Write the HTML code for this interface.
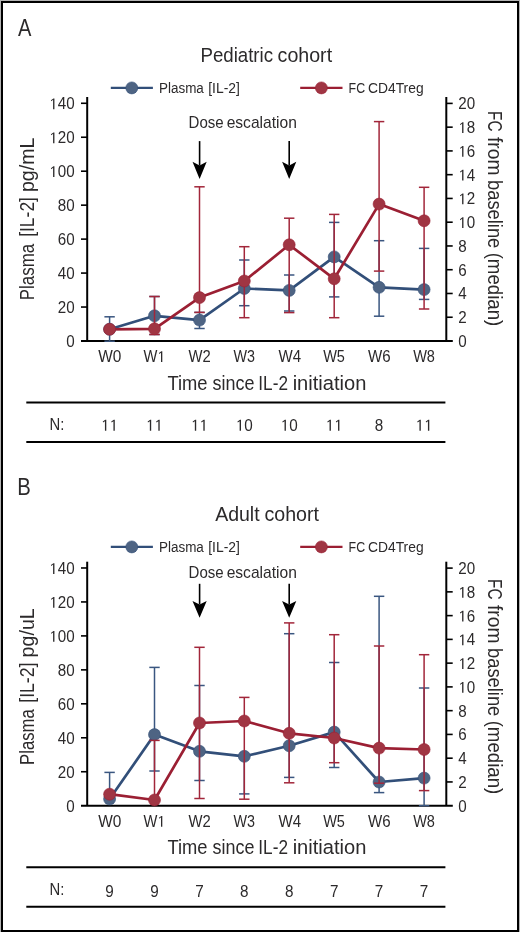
<!DOCTYPE html>
<html><head><meta charset="utf-8"><style>
html,body{margin:0;padding:0;background:#fff;}
svg{display:block;will-change:transform;}
text{font-family:"Liberation Sans",sans-serif;}
</style></head><body>
<svg width="520" height="932" viewBox="0 0 520 932">
<rect x="0" y="0" width="520" height="932" fill="#fff"/>
<g transform="translate(18.05,35.80) scale(0.8471,1)"><text font-size="23.70" fill="#2c2a2b">A</text></g>
<g transform="translate(200.46,61.60) scale(0.9386,1)"><text font-size="19.90" fill="#2c2a2b">Pediatric</text></g>
<g transform="translate(277.57,61.60) scale(0.9866,1)"><text font-size="19.90" fill="#2c2a2b">cohort</text></g>
<line x1="110.8" y1="87.9" x2="152.9" y2="87.9" stroke="#324f79" stroke-width="2.2"/>
<circle cx="131.8" cy="87.9" r="6.0" fill="#4e6483" stroke="#324f79" stroke-width="0.6"/>
<g transform="translate(158.99,92.60) scale(0.8745,1)"><text font-size="15.40" fill="#2c2a2b">Plasma</text></g>
<g transform="translate(208.23,92.60) scale(0.9023,1)"><text font-size="15.40" fill="#2c2a2b">[IL-2]</text></g>
<line x1="300.2" y1="87.9" x2="342.5" y2="87.9" stroke="#9b1f33" stroke-width="2.2"/>
<circle cx="321.4" cy="87.9" r="6.0" fill="#a03543" stroke="#9b1f33" stroke-width="0.6"/>
<g transform="translate(348.58,92.60) scale(0.8033,1)"><text font-size="15.40" fill="#2c2a2b">FC</text></g>
<g transform="translate(368.01,92.60) scale(0.8996,1)"><text font-size="15.40" fill="#2c2a2b">CD4Treg</text></g>
<g transform="translate(188.56,128.40) scale(0.9171,1)"><text font-size="16.40" fill="#2c2a2b">Dose</text></g>
<g transform="translate(226.64,128.40) scale(0.9512,1)"><text font-size="16.40" fill="#2c2a2b">escalation</text></g>
<line x1="199.6" y1="141.1" x2="199.6" y2="165.6" stroke="#000" stroke-width="1.6"/>
<path d="M192.5,161.8 L199.6,165.6 L206.7,161.8 L199.6,178.9 Z" fill="#000"/>
<line x1="289.2" y1="141.1" x2="289.2" y2="165.6" stroke="#000" stroke-width="1.6"/>
<path d="M282.09999999999997,161.8 L289.2,165.6 L296.3,161.8 L289.2,178.9 Z" fill="#000"/>
<line x1="87.2" y1="97" x2="87.2" y2="341" stroke="#000" stroke-width="2"/>
<line x1="446.3" y1="97" x2="446.3" y2="341" stroke="#000" stroke-width="2"/>
<line x1="81" y1="341" x2="452.8" y2="341" stroke="#000" stroke-width="2"/>
<line x1="81" y1="307.04" x2="87.2" y2="307.04" stroke="#000" stroke-width="1.6"/>
<line x1="81" y1="273.08" x2="87.2" y2="273.08" stroke="#000" stroke-width="1.6"/>
<line x1="81" y1="239.12" x2="87.2" y2="239.12" stroke="#000" stroke-width="1.6"/>
<line x1="81" y1="205.16" x2="87.2" y2="205.16" stroke="#000" stroke-width="1.6"/>
<line x1="81" y1="171.20" x2="87.2" y2="171.20" stroke="#000" stroke-width="1.6"/>
<line x1="81" y1="137.24" x2="87.2" y2="137.24" stroke="#000" stroke-width="1.6"/>
<line x1="81" y1="103.28" x2="87.2" y2="103.28" stroke="#000" stroke-width="1.6"/>
<g transform="translate(66.16,346.90) scale(0.9730,1)"><text font-size="15.60" fill="#2c2a2b">0</text></g>
<g transform="translate(57.72,312.94) scale(0.9730,1)"><text font-size="15.60" fill="#2c2a2b">20</text></g>
<g transform="translate(57.72,278.98) scale(0.9730,1)"><text font-size="15.60" fill="#2c2a2b">40</text></g>
<g transform="translate(57.72,245.02) scale(0.9730,1)"><text font-size="15.60" fill="#2c2a2b">60</text></g>
<g transform="translate(57.72,211.06) scale(0.9730,1)"><text font-size="15.60" fill="#2c2a2b">80</text></g>
<g transform="translate(49.27,177.10) scale(0.9730,1)"><text font-size="15.60" fill="#2c2a2b"> 00</text><path d="M515,0 L696,0 L696,1409 L566,1409 L222,1170 L268,1046 L515,1222 Z" transform="translate(0.000,0) scale(0.007617,-0.007617)" fill="#2c2a2b"/></g>
<g transform="translate(49.27,143.14) scale(0.9730,1)"><text font-size="15.60" fill="#2c2a2b"> 20</text><path d="M515,0 L696,0 L696,1409 L566,1409 L222,1170 L268,1046 L515,1222 Z" transform="translate(0.000,0) scale(0.007617,-0.007617)" fill="#2c2a2b"/></g>
<g transform="translate(49.27,109.18) scale(0.9730,1)"><text font-size="15.60" fill="#2c2a2b"> 40</text><path d="M515,0 L696,0 L696,1409 L566,1409 L222,1170 L268,1046 L515,1222 Z" transform="translate(0.000,0) scale(0.007617,-0.007617)" fill="#2c2a2b"/></g>
<line x1="446.3" y1="317.24" x2="452.7" y2="317.24" stroke="#000" stroke-width="1.6"/>
<line x1="446.3" y1="293.48" x2="452.7" y2="293.48" stroke="#000" stroke-width="1.6"/>
<line x1="446.3" y1="269.72" x2="452.7" y2="269.72" stroke="#000" stroke-width="1.6"/>
<line x1="446.3" y1="245.96" x2="452.7" y2="245.96" stroke="#000" stroke-width="1.6"/>
<line x1="446.3" y1="222.20" x2="452.7" y2="222.20" stroke="#000" stroke-width="1.6"/>
<line x1="446.3" y1="198.44" x2="452.7" y2="198.44" stroke="#000" stroke-width="1.6"/>
<line x1="446.3" y1="174.68" x2="452.7" y2="174.68" stroke="#000" stroke-width="1.6"/>
<line x1="446.3" y1="150.92" x2="452.7" y2="150.92" stroke="#000" stroke-width="1.6"/>
<line x1="446.3" y1="127.16" x2="452.7" y2="127.16" stroke="#000" stroke-width="1.6"/>
<line x1="446.3" y1="103.40" x2="452.7" y2="103.40" stroke="#000" stroke-width="1.6"/>
<g transform="translate(458.30,346.90) scale(0.9730,1)"><text font-size="15.60" fill="#2c2a2b">0</text></g>
<g transform="translate(458.30,323.14) scale(0.9730,1)"><text font-size="15.60" fill="#2c2a2b">2</text></g>
<g transform="translate(458.30,299.38) scale(0.9730,1)"><text font-size="15.60" fill="#2c2a2b">4</text></g>
<g transform="translate(458.30,275.62) scale(0.9730,1)"><text font-size="15.60" fill="#2c2a2b">6</text></g>
<g transform="translate(458.30,251.86) scale(0.9730,1)"><text font-size="15.60" fill="#2c2a2b">8</text></g>
<g transform="translate(458.30,228.10) scale(0.9730,1)"><text font-size="15.60" fill="#2c2a2b"> 0</text><path d="M515,0 L696,0 L696,1409 L566,1409 L222,1170 L268,1046 L515,1222 Z" transform="translate(0.000,0) scale(0.007617,-0.007617)" fill="#2c2a2b"/></g>
<g transform="translate(458.30,204.34) scale(0.9730,1)"><text font-size="15.60" fill="#2c2a2b"> 2</text><path d="M515,0 L696,0 L696,1409 L566,1409 L222,1170 L268,1046 L515,1222 Z" transform="translate(0.000,0) scale(0.007617,-0.007617)" fill="#2c2a2b"/></g>
<g transform="translate(458.30,180.58) scale(0.9730,1)"><text font-size="15.60" fill="#2c2a2b"> 4</text><path d="M515,0 L696,0 L696,1409 L566,1409 L222,1170 L268,1046 L515,1222 Z" transform="translate(0.000,0) scale(0.007617,-0.007617)" fill="#2c2a2b"/></g>
<g transform="translate(458.30,156.82) scale(0.9730,1)"><text font-size="15.60" fill="#2c2a2b"> 6</text><path d="M515,0 L696,0 L696,1409 L566,1409 L222,1170 L268,1046 L515,1222 Z" transform="translate(0.000,0) scale(0.007617,-0.007617)" fill="#2c2a2b"/></g>
<g transform="translate(458.30,133.06) scale(0.9730,1)"><text font-size="15.60" fill="#2c2a2b"> 8</text><path d="M515,0 L696,0 L696,1409 L566,1409 L222,1170 L268,1046 L515,1222 Z" transform="translate(0.000,0) scale(0.007617,-0.007617)" fill="#2c2a2b"/></g>
<g transform="translate(458.30,109.30) scale(0.9730,1)"><text font-size="15.60" fill="#2c2a2b">20</text></g>
<g transform="translate(98.32,362.00) scale(0.9833,1)"><text font-size="15.70" fill="#2c2a2b">W0</text></g>
<g transform="translate(143.43,362.00) scale(0.9365,1)"><text font-size="15.70" fill="#2c2a2b">W </text><path d="M515,0 L696,0 L696,1409 L566,1409 L222,1170 L268,1046 L515,1222 Z" transform="translate(14.819,0) scale(0.007666,-0.007666)" fill="#2c2a2b"/></g>
<g transform="translate(188.43,362.00) scale(0.9433,1)"><text font-size="15.70" fill="#2c2a2b">W2</text></g>
<g transform="translate(233.43,362.00) scale(0.9121,1)"><text font-size="15.70" fill="#2c2a2b">W3</text></g>
<g transform="translate(278.42,362.00) scale(0.9592,1)"><text font-size="15.70" fill="#2c2a2b">W4</text></g>
<g transform="translate(323.13,362.00) scale(0.9237,1)"><text font-size="15.70" fill="#2c2a2b">W5</text></g>
<g transform="translate(367.92,362.00) scale(0.9603,1)"><text font-size="15.70" fill="#2c2a2b">W6</text></g>
<g transform="translate(413.13,362.00) scale(0.9253,1)"><text font-size="15.70" fill="#2c2a2b">W8</text></g>
<g transform="translate(167.39,389.50) scale(0.9314,1)"><text font-size="19.70" fill="#2c2a2b">Time</text></g>
<g transform="translate(212.51,389.50) scale(0.9109,1)"><text font-size="19.70" fill="#2c2a2b">since</text></g>
<g transform="translate(258.31,389.50) scale(0.8739,1)"><text font-size="19.70" fill="#2c2a2b">IL-2</text></g>
<g transform="translate(292.64,389.50) scale(1.0217,1)"><text font-size="19.70" fill="#2c2a2b">initiation</text></g>
<g transform="translate(34.00,300.19) rotate(-90) scale(0.8612,1)"><text font-size="19.60" fill="#2c2a2b">Plasma</text></g>
<g transform="translate(34.00,236.82) rotate(-90) scale(0.8903,1)"><text font-size="19.60" fill="#2c2a2b">[IL-2]</text></g>
<g transform="translate(34.00,192.08) rotate(-90) scale(1.0033,1)"><text font-size="19.60" fill="#2c2a2b">pg/mL</text></g>
<g transform="translate(488.30,111.03) rotate(90) scale(0.7869,1)"><text font-size="19.60" fill="#2c2a2b">FC</text></g>
<g transform="translate(488.30,136.91) rotate(90) scale(0.9832,1)"><text font-size="19.60" fill="#2c2a2b">from</text></g>
<g transform="translate(488.30,180.01) rotate(90) scale(0.9365,1)"><text font-size="19.60" fill="#2c2a2b">baseline</text></g>
<g transform="translate(488.30,252.63) rotate(90) scale(0.9530,1)"><text font-size="19.60" fill="#2c2a2b">(median)</text></g>
<line x1="26.3" y1="402.5" x2="445.4" y2="402.5" stroke="#000" stroke-width="2"/>
<line x1="26.3" y1="442.1" x2="445.4" y2="442.1" stroke="#000" stroke-width="2"/>
<g transform="translate(49.57,430.00) scale(0.9232,1)"><text font-size="16.10" fill="#2c2a2b">N:</text></g>
<g transform="translate(101.10,430.70) scale(0.9550,1)"><text font-size="16.00" fill="#2c2a2b">  </text><path d="M515,0 L696,0 L696,1409 L566,1409 L222,1170 L268,1046 L515,1222 Z" transform="translate(0.000,0) scale(0.007812,-0.007812)" fill="#2c2a2b"/><path d="M515,0 L696,0 L696,1409 L566,1409 L222,1170 L268,1046 L515,1222 Z" transform="translate(8.899,0) scale(0.007812,-0.007812)" fill="#2c2a2b"/></g>
<g transform="translate(146.00,430.70) scale(0.9550,1)"><text font-size="16.00" fill="#2c2a2b">  </text><path d="M515,0 L696,0 L696,1409 L566,1409 L222,1170 L268,1046 L515,1222 Z" transform="translate(0.000,0) scale(0.007812,-0.007812)" fill="#2c2a2b"/><path d="M515,0 L696,0 L696,1409 L566,1409 L222,1170 L268,1046 L515,1222 Z" transform="translate(8.899,0) scale(0.007812,-0.007812)" fill="#2c2a2b"/></g>
<g transform="translate(191.00,430.70) scale(0.9550,1)"><text font-size="16.00" fill="#2c2a2b">  </text><path d="M515,0 L696,0 L696,1409 L566,1409 L222,1170 L268,1046 L515,1222 Z" transform="translate(0.000,0) scale(0.007812,-0.007812)" fill="#2c2a2b"/><path d="M515,0 L696,0 L696,1409 L566,1409 L222,1170 L268,1046 L515,1222 Z" transform="translate(8.899,0) scale(0.007812,-0.007812)" fill="#2c2a2b"/></g>
<g transform="translate(235.80,430.70) scale(0.9550,1)"><text font-size="16.00" fill="#2c2a2b"> 0</text><path d="M515,0 L696,0 L696,1409 L566,1409 L222,1170 L268,1046 L515,1222 Z" transform="translate(0.000,0) scale(0.007812,-0.007812)" fill="#2c2a2b"/></g>
<g transform="translate(280.70,430.70) scale(0.9550,1)"><text font-size="16.00" fill="#2c2a2b"> 0</text><path d="M515,0 L696,0 L696,1409 L566,1409 L222,1170 L268,1046 L515,1222 Z" transform="translate(0.000,0) scale(0.007812,-0.007812)" fill="#2c2a2b"/></g>
<g transform="translate(325.70,430.70) scale(0.9550,1)"><text font-size="16.00" fill="#2c2a2b">  </text><path d="M515,0 L696,0 L696,1409 L566,1409 L222,1170 L268,1046 L515,1222 Z" transform="translate(0.000,0) scale(0.007812,-0.007812)" fill="#2c2a2b"/><path d="M515,0 L696,0 L696,1409 L566,1409 L222,1170 L268,1046 L515,1222 Z" transform="translate(8.899,0) scale(0.007812,-0.007812)" fill="#2c2a2b"/></g>
<g transform="translate(374.85,430.70) scale(0.9550,1)"><text font-size="16.00" fill="#2c2a2b">8</text></g>
<g transform="translate(415.60,430.70) scale(0.9550,1)"><text font-size="16.00" fill="#2c2a2b">  </text><path d="M515,0 L696,0 L696,1409 L566,1409 L222,1170 L268,1046 L515,1222 Z" transform="translate(0.000,0) scale(0.007812,-0.007812)" fill="#2c2a2b"/><path d="M515,0 L696,0 L696,1409 L566,1409 L222,1170 L268,1046 L515,1222 Z" transform="translate(8.899,0) scale(0.007812,-0.007812)" fill="#2c2a2b"/></g>
<line x1="109.6" y1="316.8" x2="109.6" y2="341.2" stroke="#3a5680" stroke-width="1.5"/>
<line x1="104.39999999999999" y1="316.8" x2="114.8" y2="316.8" stroke="#3a5680" stroke-width="1.5"/>
<line x1="104.39999999999999" y1="341.2" x2="114.8" y2="341.2" stroke="#3a5680" stroke-width="1.5"/>
<line x1="154.5" y1="296.5" x2="154.5" y2="334.5" stroke="#3a5680" stroke-width="1.5"/>
<line x1="149.3" y1="296.5" x2="159.7" y2="296.5" stroke="#3a5680" stroke-width="1.5"/>
<line x1="149.3" y1="334.5" x2="159.7" y2="334.5" stroke="#3a5680" stroke-width="1.5"/>
<line x1="199.5" y1="312.4" x2="199.5" y2="328.5" stroke="#3a5680" stroke-width="1.5"/>
<line x1="194.3" y1="312.4" x2="204.7" y2="312.4" stroke="#3a5680" stroke-width="1.5"/>
<line x1="194.3" y1="328.5" x2="204.7" y2="328.5" stroke="#3a5680" stroke-width="1.5"/>
<line x1="244.3" y1="260" x2="244.3" y2="305.7" stroke="#3a5680" stroke-width="1.5"/>
<line x1="239.10000000000002" y1="260" x2="249.5" y2="260" stroke="#3a5680" stroke-width="1.5"/>
<line x1="239.10000000000002" y1="305.7" x2="249.5" y2="305.7" stroke="#3a5680" stroke-width="1.5"/>
<line x1="289.2" y1="275" x2="289.2" y2="311" stroke="#3a5680" stroke-width="1.5"/>
<line x1="284.0" y1="275" x2="294.4" y2="275" stroke="#3a5680" stroke-width="1.5"/>
<line x1="284.0" y1="311" x2="294.4" y2="311" stroke="#3a5680" stroke-width="1.5"/>
<line x1="334.2" y1="222.4" x2="334.2" y2="296.9" stroke="#3a5680" stroke-width="1.5"/>
<line x1="329.0" y1="222.4" x2="339.4" y2="222.4" stroke="#3a5680" stroke-width="1.5"/>
<line x1="329.0" y1="296.9" x2="339.4" y2="296.9" stroke="#3a5680" stroke-width="1.5"/>
<line x1="379.1" y1="240.7" x2="379.1" y2="316.2" stroke="#3a5680" stroke-width="1.5"/>
<line x1="373.90000000000003" y1="240.7" x2="384.3" y2="240.7" stroke="#3a5680" stroke-width="1.5"/>
<line x1="373.90000000000003" y1="316.2" x2="384.3" y2="316.2" stroke="#3a5680" stroke-width="1.5"/>
<line x1="424.1" y1="248.4" x2="424.1" y2="299.4" stroke="#3a5680" stroke-width="1.5"/>
<line x1="418.90000000000003" y1="248.4" x2="429.3" y2="248.4" stroke="#3a5680" stroke-width="1.5"/>
<line x1="418.90000000000003" y1="299.4" x2="429.3" y2="299.4" stroke="#3a5680" stroke-width="1.5"/>
<path d="M109.6,329.2 L154.5,315.8 L199.5,320.1 L244.3,288.5 L289.2,290.4 L334.2,256.9 L379.1,287.3 L424.1,289.6" fill="none" stroke="#324f79" stroke-width="2.7" stroke-linejoin="round"/>
<circle cx="109.6" cy="329.2" r="6.0" fill="#4e6483" stroke="#324f79" stroke-width="0.6"/>
<circle cx="154.5" cy="315.8" r="6.0" fill="#4e6483" stroke="#324f79" stroke-width="0.6"/>
<circle cx="199.5" cy="320.1" r="6.0" fill="#4e6483" stroke="#324f79" stroke-width="0.6"/>
<circle cx="244.3" cy="288.5" r="6.0" fill="#4e6483" stroke="#324f79" stroke-width="0.6"/>
<circle cx="289.2" cy="290.4" r="6.0" fill="#4e6483" stroke="#324f79" stroke-width="0.6"/>
<circle cx="334.2" cy="256.9" r="6.0" fill="#4e6483" stroke="#324f79" stroke-width="0.6"/>
<circle cx="379.1" cy="287.3" r="6.0" fill="#4e6483" stroke="#324f79" stroke-width="0.6"/>
<circle cx="424.1" cy="289.6" r="6.0" fill="#4e6483" stroke="#324f79" stroke-width="0.6"/>
<line x1="154.5" y1="296.5" x2="154.5" y2="334.5" stroke="#a2263a" stroke-width="1.5"/>
<line x1="149.3" y1="296.5" x2="159.7" y2="296.5" stroke="#a2263a" stroke-width="1.5"/>
<line x1="149.3" y1="334.5" x2="159.7" y2="334.5" stroke="#a2263a" stroke-width="1.5"/>
<line x1="199.5" y1="186.8" x2="199.5" y2="312.4" stroke="#a2263a" stroke-width="1.5"/>
<line x1="194.3" y1="186.8" x2="204.7" y2="186.8" stroke="#a2263a" stroke-width="1.5"/>
<line x1="194.3" y1="312.4" x2="204.7" y2="312.4" stroke="#a2263a" stroke-width="1.5"/>
<line x1="244.3" y1="246.7" x2="244.3" y2="317.7" stroke="#a2263a" stroke-width="1.5"/>
<line x1="239.10000000000002" y1="246.7" x2="249.5" y2="246.7" stroke="#a2263a" stroke-width="1.5"/>
<line x1="239.10000000000002" y1="317.7" x2="249.5" y2="317.7" stroke="#a2263a" stroke-width="1.5"/>
<line x1="289.2" y1="218.2" x2="289.2" y2="312.6" stroke="#a2263a" stroke-width="1.5"/>
<line x1="284.0" y1="218.2" x2="294.4" y2="218.2" stroke="#a2263a" stroke-width="1.5"/>
<line x1="284.0" y1="312.6" x2="294.4" y2="312.6" stroke="#a2263a" stroke-width="1.5"/>
<line x1="334.2" y1="214.4" x2="334.2" y2="317.7" stroke="#a2263a" stroke-width="1.5"/>
<line x1="329.0" y1="214.4" x2="339.4" y2="214.4" stroke="#a2263a" stroke-width="1.5"/>
<line x1="329.0" y1="317.7" x2="339.4" y2="317.7" stroke="#a2263a" stroke-width="1.5"/>
<line x1="379.1" y1="121.6" x2="379.1" y2="271.1" stroke="#a2263a" stroke-width="1.5"/>
<line x1="373.90000000000003" y1="121.6" x2="384.3" y2="121.6" stroke="#a2263a" stroke-width="1.5"/>
<line x1="373.90000000000003" y1="271.1" x2="384.3" y2="271.1" stroke="#a2263a" stroke-width="1.5"/>
<line x1="424.1" y1="187.3" x2="424.1" y2="309" stroke="#a2263a" stroke-width="1.5"/>
<line x1="418.90000000000003" y1="187.3" x2="429.3" y2="187.3" stroke="#a2263a" stroke-width="1.5"/>
<line x1="418.90000000000003" y1="309" x2="429.3" y2="309" stroke="#a2263a" stroke-width="1.5"/>
<path d="M109.6,329.3 L154.5,328.8 L199.5,297.6 L244.3,281.0 L289.2,244.8 L334.2,278.8 L379.1,204.1 L424.1,220.8" fill="none" stroke="#9b1f33" stroke-width="2.7" stroke-linejoin="round"/>
<circle cx="109.6" cy="329.3" r="6.0" fill="#a03543" stroke="#9b1f33" stroke-width="0.6"/>
<circle cx="154.5" cy="328.8" r="6.0" fill="#a03543" stroke="#9b1f33" stroke-width="0.6"/>
<circle cx="199.5" cy="297.6" r="6.0" fill="#a03543" stroke="#9b1f33" stroke-width="0.6"/>
<circle cx="244.3" cy="281.0" r="6.0" fill="#a03543" stroke="#9b1f33" stroke-width="0.6"/>
<circle cx="289.2" cy="244.8" r="6.0" fill="#a03543" stroke="#9b1f33" stroke-width="0.6"/>
<circle cx="334.2" cy="278.8" r="6.0" fill="#a03543" stroke="#9b1f33" stroke-width="0.6"/>
<circle cx="379.1" cy="204.1" r="6.0" fill="#a03543" stroke="#9b1f33" stroke-width="0.6"/>
<circle cx="424.1" cy="220.8" r="6.0" fill="#a03543" stroke="#9b1f33" stroke-width="0.6"/>
<g transform="translate(17.13,494.60) scale(0.8346,1)"><text font-size="24.30" fill="#2c2a2b">B</text></g>
<g transform="translate(215.15,520.60) scale(0.9807,1)"><text font-size="19.90" fill="#2c2a2b">Adult</text></g>
<g transform="translate(264.47,520.60) scale(0.9866,1)"><text font-size="19.90" fill="#2c2a2b">cohort</text></g>
<line x1="110.8" y1="546.9" x2="152.9" y2="546.9" stroke="#324f79" stroke-width="2.2"/>
<circle cx="131.8" cy="546.9" r="6.0" fill="#4e6483" stroke="#324f79" stroke-width="0.6"/>
<g transform="translate(158.99,551.60) scale(0.8745,1)"><text font-size="15.40" fill="#2c2a2b">Plasma</text></g>
<g transform="translate(208.23,551.60) scale(0.9023,1)"><text font-size="15.40" fill="#2c2a2b">[IL-2]</text></g>
<line x1="300.2" y1="546.9" x2="342.5" y2="546.9" stroke="#9b1f33" stroke-width="2.2"/>
<circle cx="321.4" cy="546.9" r="6.0" fill="#a03543" stroke="#9b1f33" stroke-width="0.6"/>
<g transform="translate(348.58,551.60) scale(0.8033,1)"><text font-size="15.40" fill="#2c2a2b">FC</text></g>
<g transform="translate(368.01,551.60) scale(0.8996,1)"><text font-size="15.40" fill="#2c2a2b">CD4Treg</text></g>
<g transform="translate(188.56,578.00) scale(0.9171,1)"><text font-size="16.40" fill="#2c2a2b">Dose</text></g>
<g transform="translate(226.64,578.00) scale(0.9512,1)"><text font-size="16.40" fill="#2c2a2b">escalation</text></g>
<line x1="199.6" y1="583.8" x2="199.6" y2="604.5" stroke="#000" stroke-width="1.6"/>
<path d="M192.5,601.1 L199.6,604.5 L206.7,601.1 L199.6,617.8 Z" fill="#000"/>
<line x1="289.2" y1="583.8" x2="289.2" y2="604.5" stroke="#000" stroke-width="1.6"/>
<path d="M282.09999999999997,601.1 L289.2,604.5 L296.3,601.1 L289.2,617.8 Z" fill="#000"/>
<line x1="87.2" y1="561.7" x2="87.2" y2="805.7" stroke="#000" stroke-width="2"/>
<line x1="446.3" y1="561.7" x2="446.3" y2="805.7" stroke="#000" stroke-width="2"/>
<line x1="81" y1="805.7" x2="452.8" y2="805.7" stroke="#000" stroke-width="2"/>
<line x1="81" y1="771.74" x2="87.2" y2="771.74" stroke="#000" stroke-width="1.6"/>
<line x1="81" y1="737.78" x2="87.2" y2="737.78" stroke="#000" stroke-width="1.6"/>
<line x1="81" y1="703.82" x2="87.2" y2="703.82" stroke="#000" stroke-width="1.6"/>
<line x1="81" y1="669.86" x2="87.2" y2="669.86" stroke="#000" stroke-width="1.6"/>
<line x1="81" y1="635.90" x2="87.2" y2="635.90" stroke="#000" stroke-width="1.6"/>
<line x1="81" y1="601.94" x2="87.2" y2="601.94" stroke="#000" stroke-width="1.6"/>
<line x1="81" y1="567.98" x2="87.2" y2="567.98" stroke="#000" stroke-width="1.6"/>
<g transform="translate(66.16,811.60) scale(0.9730,1)"><text font-size="15.60" fill="#2c2a2b">0</text></g>
<g transform="translate(57.72,777.64) scale(0.9730,1)"><text font-size="15.60" fill="#2c2a2b">20</text></g>
<g transform="translate(57.72,743.68) scale(0.9730,1)"><text font-size="15.60" fill="#2c2a2b">40</text></g>
<g transform="translate(57.72,709.72) scale(0.9730,1)"><text font-size="15.60" fill="#2c2a2b">60</text></g>
<g transform="translate(57.72,675.76) scale(0.9730,1)"><text font-size="15.60" fill="#2c2a2b">80</text></g>
<g transform="translate(49.27,641.80) scale(0.9730,1)"><text font-size="15.60" fill="#2c2a2b"> 00</text><path d="M515,0 L696,0 L696,1409 L566,1409 L222,1170 L268,1046 L515,1222 Z" transform="translate(0.000,0) scale(0.007617,-0.007617)" fill="#2c2a2b"/></g>
<g transform="translate(49.27,607.84) scale(0.9730,1)"><text font-size="15.60" fill="#2c2a2b"> 20</text><path d="M515,0 L696,0 L696,1409 L566,1409 L222,1170 L268,1046 L515,1222 Z" transform="translate(0.000,0) scale(0.007617,-0.007617)" fill="#2c2a2b"/></g>
<g transform="translate(49.27,573.88) scale(0.9730,1)"><text font-size="15.60" fill="#2c2a2b"> 40</text><path d="M515,0 L696,0 L696,1409 L566,1409 L222,1170 L268,1046 L515,1222 Z" transform="translate(0.000,0) scale(0.007617,-0.007617)" fill="#2c2a2b"/></g>
<line x1="446.3" y1="781.94" x2="452.7" y2="781.94" stroke="#000" stroke-width="1.6"/>
<line x1="446.3" y1="758.18" x2="452.7" y2="758.18" stroke="#000" stroke-width="1.6"/>
<line x1="446.3" y1="734.42" x2="452.7" y2="734.42" stroke="#000" stroke-width="1.6"/>
<line x1="446.3" y1="710.66" x2="452.7" y2="710.66" stroke="#000" stroke-width="1.6"/>
<line x1="446.3" y1="686.90" x2="452.7" y2="686.90" stroke="#000" stroke-width="1.6"/>
<line x1="446.3" y1="663.14" x2="452.7" y2="663.14" stroke="#000" stroke-width="1.6"/>
<line x1="446.3" y1="639.38" x2="452.7" y2="639.38" stroke="#000" stroke-width="1.6"/>
<line x1="446.3" y1="615.62" x2="452.7" y2="615.62" stroke="#000" stroke-width="1.6"/>
<line x1="446.3" y1="591.86" x2="452.7" y2="591.86" stroke="#000" stroke-width="1.6"/>
<line x1="446.3" y1="568.10" x2="452.7" y2="568.10" stroke="#000" stroke-width="1.6"/>
<g transform="translate(458.30,811.60) scale(0.9730,1)"><text font-size="15.60" fill="#2c2a2b">0</text></g>
<g transform="translate(458.30,787.84) scale(0.9730,1)"><text font-size="15.60" fill="#2c2a2b">2</text></g>
<g transform="translate(458.30,764.08) scale(0.9730,1)"><text font-size="15.60" fill="#2c2a2b">4</text></g>
<g transform="translate(458.30,740.32) scale(0.9730,1)"><text font-size="15.60" fill="#2c2a2b">6</text></g>
<g transform="translate(458.30,716.56) scale(0.9730,1)"><text font-size="15.60" fill="#2c2a2b">8</text></g>
<g transform="translate(458.30,692.80) scale(0.9730,1)"><text font-size="15.60" fill="#2c2a2b"> 0</text><path d="M515,0 L696,0 L696,1409 L566,1409 L222,1170 L268,1046 L515,1222 Z" transform="translate(0.000,0) scale(0.007617,-0.007617)" fill="#2c2a2b"/></g>
<g transform="translate(458.30,669.04) scale(0.9730,1)"><text font-size="15.60" fill="#2c2a2b"> 2</text><path d="M515,0 L696,0 L696,1409 L566,1409 L222,1170 L268,1046 L515,1222 Z" transform="translate(0.000,0) scale(0.007617,-0.007617)" fill="#2c2a2b"/></g>
<g transform="translate(458.30,645.28) scale(0.9730,1)"><text font-size="15.60" fill="#2c2a2b"> 4</text><path d="M515,0 L696,0 L696,1409 L566,1409 L222,1170 L268,1046 L515,1222 Z" transform="translate(0.000,0) scale(0.007617,-0.007617)" fill="#2c2a2b"/></g>
<g transform="translate(458.30,621.52) scale(0.9730,1)"><text font-size="15.60" fill="#2c2a2b"> 6</text><path d="M515,0 L696,0 L696,1409 L566,1409 L222,1170 L268,1046 L515,1222 Z" transform="translate(0.000,0) scale(0.007617,-0.007617)" fill="#2c2a2b"/></g>
<g transform="translate(458.30,597.76) scale(0.9730,1)"><text font-size="15.60" fill="#2c2a2b"> 8</text><path d="M515,0 L696,0 L696,1409 L566,1409 L222,1170 L268,1046 L515,1222 Z" transform="translate(0.000,0) scale(0.007617,-0.007617)" fill="#2c2a2b"/></g>
<g transform="translate(458.30,574.00) scale(0.9730,1)"><text font-size="15.60" fill="#2c2a2b">20</text></g>
<g transform="translate(98.32,826.70) scale(0.9833,1)"><text font-size="15.70" fill="#2c2a2b">W0</text></g>
<g transform="translate(143.43,826.70) scale(0.9365,1)"><text font-size="15.70" fill="#2c2a2b">W </text><path d="M515,0 L696,0 L696,1409 L566,1409 L222,1170 L268,1046 L515,1222 Z" transform="translate(14.819,0) scale(0.007666,-0.007666)" fill="#2c2a2b"/></g>
<g transform="translate(188.43,826.70) scale(0.9433,1)"><text font-size="15.70" fill="#2c2a2b">W2</text></g>
<g transform="translate(233.43,826.70) scale(0.9121,1)"><text font-size="15.70" fill="#2c2a2b">W3</text></g>
<g transform="translate(278.42,826.70) scale(0.9592,1)"><text font-size="15.70" fill="#2c2a2b">W4</text></g>
<g transform="translate(323.13,826.70) scale(0.9237,1)"><text font-size="15.70" fill="#2c2a2b">W5</text></g>
<g transform="translate(367.92,826.70) scale(0.9603,1)"><text font-size="15.70" fill="#2c2a2b">W6</text></g>
<g transform="translate(413.13,826.70) scale(0.9253,1)"><text font-size="15.70" fill="#2c2a2b">W8</text></g>
<g transform="translate(167.39,854.20) scale(0.9314,1)"><text font-size="19.70" fill="#2c2a2b">Time</text></g>
<g transform="translate(212.51,854.20) scale(0.9109,1)"><text font-size="19.70" fill="#2c2a2b">since</text></g>
<g transform="translate(258.31,854.20) scale(0.8739,1)"><text font-size="19.70" fill="#2c2a2b">IL-2</text></g>
<g transform="translate(292.64,854.20) scale(1.0217,1)"><text font-size="19.70" fill="#2c2a2b">initiation</text></g>
<g transform="translate(34.00,764.98) rotate(-90) scale(0.8533,1)"><text font-size="19.60" fill="#2c2a2b">Plasma</text></g>
<g transform="translate(34.00,702.73) rotate(-90) scale(0.8999,1)"><text font-size="19.60" fill="#2c2a2b">[IL-2]</text></g>
<g transform="translate(34.00,657.38) rotate(-90) scale(1.0013,1)"><text font-size="19.60" fill="#2c2a2b">pg/uL</text></g>
<g transform="translate(488.30,579.03) rotate(90) scale(0.7869,1)"><text font-size="19.60" fill="#2c2a2b">FC</text></g>
<g transform="translate(488.30,604.91) rotate(90) scale(0.9832,1)"><text font-size="19.60" fill="#2c2a2b">from</text></g>
<g transform="translate(488.30,648.01) rotate(90) scale(0.9365,1)"><text font-size="19.60" fill="#2c2a2b">baseline</text></g>
<g transform="translate(488.30,720.63) rotate(90) scale(0.9530,1)"><text font-size="19.60" fill="#2c2a2b">(median)</text></g>
<line x1="26.3" y1="867.2" x2="445.4" y2="867.2" stroke="#000" stroke-width="2"/>
<line x1="26.3" y1="906.8" x2="445.4" y2="906.8" stroke="#000" stroke-width="2"/>
<g transform="translate(49.57,894.70) scale(0.9232,1)"><text font-size="16.10" fill="#2c2a2b">N:</text></g>
<g transform="translate(105.35,896.60) scale(0.9550,1)"><text font-size="16.00" fill="#2c2a2b">9</text></g>
<g transform="translate(150.25,896.60) scale(0.9550,1)"><text font-size="16.00" fill="#2c2a2b">9</text></g>
<g transform="translate(195.25,896.60) scale(0.9550,1)"><text font-size="16.00" fill="#2c2a2b">7</text></g>
<g transform="translate(240.05,896.60) scale(0.9550,1)"><text font-size="16.00" fill="#2c2a2b">8</text></g>
<g transform="translate(284.95,896.60) scale(0.9550,1)"><text font-size="16.00" fill="#2c2a2b">8</text></g>
<g transform="translate(329.95,896.60) scale(0.9550,1)"><text font-size="16.00" fill="#2c2a2b">7</text></g>
<g transform="translate(374.85,896.60) scale(0.9550,1)"><text font-size="16.00" fill="#2c2a2b">7</text></g>
<g transform="translate(419.85,896.60) scale(0.9550,1)"><text font-size="16.00" fill="#2c2a2b">7</text></g>
<line x1="109.6" y1="772.4" x2="109.6" y2="799.0" stroke="#3a5680" stroke-width="1.5"/>
<line x1="104.39999999999999" y1="772.4" x2="114.8" y2="772.4" stroke="#3a5680" stroke-width="1.5"/>
<line x1="154.5" y1="667.4" x2="154.5" y2="771" stroke="#3a5680" stroke-width="1.5"/>
<line x1="149.3" y1="667.4" x2="159.7" y2="667.4" stroke="#3a5680" stroke-width="1.5"/>
<line x1="149.3" y1="771" x2="159.7" y2="771" stroke="#3a5680" stroke-width="1.5"/>
<line x1="199.5" y1="685.5" x2="199.5" y2="780.5" stroke="#3a5680" stroke-width="1.5"/>
<line x1="194.3" y1="685.5" x2="204.7" y2="685.5" stroke="#3a5680" stroke-width="1.5"/>
<line x1="194.3" y1="780.5" x2="204.7" y2="780.5" stroke="#3a5680" stroke-width="1.5"/>
<line x1="244.3" y1="756.3" x2="244.3" y2="793.9" stroke="#3a5680" stroke-width="1.5"/>
<line x1="239.10000000000002" y1="793.9" x2="249.5" y2="793.9" stroke="#3a5680" stroke-width="1.5"/>
<line x1="289.2" y1="633.7" x2="289.2" y2="777.4" stroke="#3a5680" stroke-width="1.5"/>
<line x1="284.0" y1="633.7" x2="294.4" y2="633.7" stroke="#3a5680" stroke-width="1.5"/>
<line x1="284.0" y1="777.4" x2="294.4" y2="777.4" stroke="#3a5680" stroke-width="1.5"/>
<line x1="334.2" y1="662.5" x2="334.2" y2="767.5" stroke="#3a5680" stroke-width="1.5"/>
<line x1="329.0" y1="662.5" x2="339.4" y2="662.5" stroke="#3a5680" stroke-width="1.5"/>
<line x1="329.0" y1="767.5" x2="339.4" y2="767.5" stroke="#3a5680" stroke-width="1.5"/>
<line x1="379.1" y1="596.3" x2="379.1" y2="792.6" stroke="#3a5680" stroke-width="1.5"/>
<line x1="373.90000000000003" y1="596.3" x2="384.3" y2="596.3" stroke="#3a5680" stroke-width="1.5"/>
<line x1="373.90000000000003" y1="792.6" x2="384.3" y2="792.6" stroke="#3a5680" stroke-width="1.5"/>
<line x1="424.1" y1="688" x2="424.1" y2="805.7" stroke="#3a5680" stroke-width="1.5"/>
<line x1="418.90000000000003" y1="688" x2="429.3" y2="688" stroke="#3a5680" stroke-width="1.5"/>
<line x1="418.90000000000003" y1="805.7" x2="429.3" y2="805.7" stroke="#3a5680" stroke-width="1.5"/>
<path d="M109.6,799.0 L154.5,734.6 L199.5,751.3 L244.3,756.3 L289.2,745.8 L334.2,732.1 L379.1,782.0 L424.1,778.1" fill="none" stroke="#324f79" stroke-width="2.7" stroke-linejoin="round"/>
<circle cx="109.6" cy="799.0" r="6.0" fill="#4e6483" stroke="#324f79" stroke-width="0.6"/>
<circle cx="154.5" cy="734.6" r="6.0" fill="#4e6483" stroke="#324f79" stroke-width="0.6"/>
<circle cx="199.5" cy="751.3" r="6.0" fill="#4e6483" stroke="#324f79" stroke-width="0.6"/>
<circle cx="244.3" cy="756.3" r="6.0" fill="#4e6483" stroke="#324f79" stroke-width="0.6"/>
<circle cx="289.2" cy="745.8" r="6.0" fill="#4e6483" stroke="#324f79" stroke-width="0.6"/>
<circle cx="334.2" cy="732.1" r="6.0" fill="#4e6483" stroke="#324f79" stroke-width="0.6"/>
<circle cx="379.1" cy="782.0" r="6.0" fill="#4e6483" stroke="#324f79" stroke-width="0.6"/>
<circle cx="424.1" cy="778.1" r="6.0" fill="#4e6483" stroke="#324f79" stroke-width="0.6"/>
<line x1="154.5" y1="740.4" x2="154.5" y2="800.0" stroke="#a2263a" stroke-width="1.5"/>
<line x1="149.3" y1="740.4" x2="159.7" y2="740.4" stroke="#a2263a" stroke-width="1.5"/>
<line x1="199.5" y1="647.3" x2="199.5" y2="798.5" stroke="#a2263a" stroke-width="1.5"/>
<line x1="194.3" y1="647.3" x2="204.7" y2="647.3" stroke="#a2263a" stroke-width="1.5"/>
<line x1="194.3" y1="798.5" x2="204.7" y2="798.5" stroke="#a2263a" stroke-width="1.5"/>
<line x1="244.3" y1="697.4" x2="244.3" y2="799.2" stroke="#a2263a" stroke-width="1.5"/>
<line x1="239.10000000000002" y1="697.4" x2="249.5" y2="697.4" stroke="#a2263a" stroke-width="1.5"/>
<line x1="239.10000000000002" y1="799.2" x2="249.5" y2="799.2" stroke="#a2263a" stroke-width="1.5"/>
<line x1="289.2" y1="622.9" x2="289.2" y2="782.8" stroke="#a2263a" stroke-width="1.5"/>
<line x1="284.0" y1="622.9" x2="294.4" y2="622.9" stroke="#a2263a" stroke-width="1.5"/>
<line x1="284.0" y1="782.8" x2="294.4" y2="782.8" stroke="#a2263a" stroke-width="1.5"/>
<line x1="334.2" y1="634.7" x2="334.2" y2="762.7" stroke="#a2263a" stroke-width="1.5"/>
<line x1="329.0" y1="634.7" x2="339.4" y2="634.7" stroke="#a2263a" stroke-width="1.5"/>
<line x1="329.0" y1="762.7" x2="339.4" y2="762.7" stroke="#a2263a" stroke-width="1.5"/>
<line x1="379.1" y1="646" x2="379.1" y2="783.2" stroke="#a2263a" stroke-width="1.5"/>
<line x1="373.90000000000003" y1="646" x2="384.3" y2="646" stroke="#a2263a" stroke-width="1.5"/>
<line x1="373.90000000000003" y1="783.2" x2="384.3" y2="783.2" stroke="#a2263a" stroke-width="1.5"/>
<line x1="424.1" y1="654.7" x2="424.1" y2="790.6" stroke="#a2263a" stroke-width="1.5"/>
<line x1="418.90000000000003" y1="654.7" x2="429.3" y2="654.7" stroke="#a2263a" stroke-width="1.5"/>
<line x1="418.90000000000003" y1="790.6" x2="429.3" y2="790.6" stroke="#a2263a" stroke-width="1.5"/>
<path d="M109.6,794.2 L154.5,800.0 L199.5,723.0 L244.3,721.0 L289.2,733.3 L334.2,738.0 L379.1,748.1 L424.1,749.5" fill="none" stroke="#9b1f33" stroke-width="2.7" stroke-linejoin="round"/>
<circle cx="109.6" cy="794.2" r="6.0" fill="#a03543" stroke="#9b1f33" stroke-width="0.6"/>
<circle cx="154.5" cy="800.0" r="6.0" fill="#a03543" stroke="#9b1f33" stroke-width="0.6"/>
<circle cx="199.5" cy="723.0" r="6.0" fill="#a03543" stroke="#9b1f33" stroke-width="0.6"/>
<circle cx="244.3" cy="721.0" r="6.0" fill="#a03543" stroke="#9b1f33" stroke-width="0.6"/>
<circle cx="289.2" cy="733.3" r="6.0" fill="#a03543" stroke="#9b1f33" stroke-width="0.6"/>
<circle cx="334.2" cy="738.0" r="6.0" fill="#a03543" stroke="#9b1f33" stroke-width="0.6"/>
<circle cx="379.1" cy="748.1" r="6.0" fill="#a03543" stroke="#9b1f33" stroke-width="0.6"/>
<circle cx="424.1" cy="749.5" r="6.0" fill="#a03543" stroke="#9b1f33" stroke-width="0.6"/>
<rect x="0.5" y="0.5" width="519" height="931" fill="none" stroke="#b4b4b4" stroke-width="1"/>
<rect x="2" y="2" width="516" height="929" fill="none" stroke="#000" stroke-width="2"/>
</svg>
</body></html>
